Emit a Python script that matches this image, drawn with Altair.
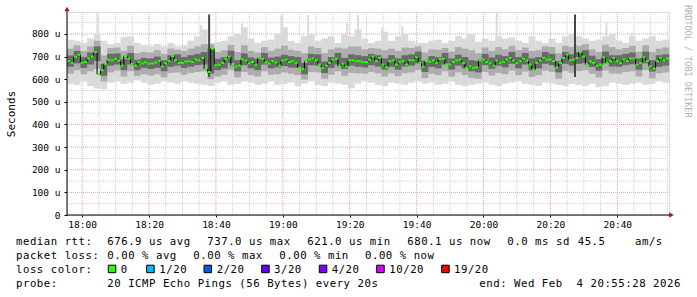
import altair as alt
import pandas as pd

# ---------------------------------------------------------------- data
START_H, START_M, START_S = 17, 55, 28   # left edge of the graph (clock)
SPAN = 180                               # minutes shown
Y_MAX = 897                              # microseconds at the top edge

# median RTT (us), one value per minute slot
median_us = [
    680, 672, 700, 708, 672, 676, 692, 700, 720, 622,
    640, 668, 686, 684, 690, 682, 660, 702, 690, 668,
    660, 676, 670, 674, 668, 670, 674, 680, 657, 670,
    680, 702, 684, 672, 672, 678, 680, 676, 687, 684,
    694, 645, 632, 735, 662, 664, 672, 690, 700, 660,
    656, 660, 688, 682, 670, 676, 664, 694, 690, 674,
    670, 680, 674, 660, 682, 686, 676, 680, 672, 650,
    645, 680, 687, 692, 684, 665, 650, 660, 672, 687,
    690, 657, 668, 655, 684, 684, 680, 680, 676, 676,
    686, 700, 680, 694, 665, 653, 680, 684, 665, 677,
    680, 665, 684, 684, 697, 672, 655, 680, 677, 683,
    672, 690, 690, 666, 666, 676, 683, 687, 672, 650,
    657, 650, 653, 684, 686, 676, 670, 660, 683, 672,
    677, 687, 694, 683, 672, 680, 690, 683, 665, 642,
    672, 683, 694, 687, 687, 680, 652, 672, 694, 709,
    684, 687, 694, 720, 700, 665, 678, 672, 660, 665,
    697, 672, 680, 694, 680, 672, 687, 680, 692, 692,
    665, 672, 697, 680, 657, 647, 680, 694, 684, 692,
]

# smoke bands (us), one value per 2-minute slot
outer_hi = [
    775, 770, 760, 780, 800, 770, 755, 760, 785, 790,
    760, 750, 745, 755, 745, 760, 745, 750, 770, 790,
    820, 760, 765, 770, 790, 800, 830, 780, 760, 770,
    775, 800, 830, 770, 760, 790, 800, 770, 780, 790,
    760, 800, 790, 820, 780, 760, 770, 810, 770, 790,
    800, 770, 760, 760, 770, 775, 760, 770, 790, 780,
    800, 765, 780, 770, 790, 780, 785, 770, 760, 790,
    770, 760, 780, 760, 790, 800, 790, 780, 770, 775,
    790, 800, 770, 760, 790, 770, 780, 790, 770, 775,
]
outer_lo = [
    580, 575, 590, 570, 560, 555, 585, 590, 580, 585,
    595, 585, 575, 580, 590, 585, 580, 590, 585, 580,
    575, 570, 585, 590, 575, 580, 590, 585, 575, 580,
    590, 575, 580, 585, 570, 580, 590, 575, 570, 585,
    580, 575, 560, 580, 590, 585, 575, 570, 585, 580,
    575, 585, 590, 580, 585, 575, 580, 590, 575, 570,
    575, 580, 585, 575, 570, 580, 585, 590, 580, 575,
    570, 585, 580, 575, 570, 580, 575, 570, 580, 565,
    570, 585, 580, 575, 580, 585, 575, 580, 590, 585,
]
mid_hi = [
    735, 750, 725, 745, 770, 705, 738, 740, 725, 748,
    715, 720, 718, 728, 712, 735, 730, 725, 735, 745,
    755, 755, 720, 728, 752, 720, 750, 725, 718, 742,
    725, 735, 748, 730, 725, 715, 745, 738, 715, 732,
    740, 735, 745, 745, 732, 738, 735, 728, 735, 725,
    740, 738, 745, 718, 732, 730, 738, 722, 742, 735,
    728, 715, 740, 725, 742, 732, 748, 728, 740, 725,
    728, 745, 742, 715, 748, 742, 748, 755, 732, 720,
    752, 742, 732, 738, 748, 722, 750, 720, 735, 740,
]
mid_lo = [
    625, 640, 622, 635, 645, 590, 630, 638, 612, 635,
    615, 622, 616, 622, 608, 628, 630, 620, 628, 632,
    635, 600, 612, 620, 640, 608, 632, 618, 612, 635,
    620, 622, 630, 624, 618, 598, 632, 630, 602, 620,
    635, 615, 628, 626, 624, 632, 626, 612, 626, 614,
    626, 630, 640, 605, 624, 618, 635, 612, 630, 618,
    606, 602, 632, 616, 628, 622, 638, 618, 634, 610,
    618, 638, 632, 602, 636, 628, 636, 640, 624, 608,
    638, 626, 624, 632, 635, 612, 640, 604, 626, 630,
]
core_hi = [
    705, 725, 698, 718, 745, 668, 712, 714, 688, 716,
    686, 694, 692, 700, 684, 706, 710, 698, 706, 712,
    720, 735, 690, 698, 726, 684, 714, 696, 690, 716,
    696, 700, 708, 702, 698, 672, 712, 710, 678, 698,
    716, 694, 710, 706, 702, 712, 706, 692, 706, 692,
    706, 710, 722, 682, 702, 698, 716, 692, 708, 698,
    684, 680, 712, 696, 708, 702, 720, 698, 716, 692,
    698, 720, 712, 680, 720, 710, 720, 728, 704, 688,
    722, 706, 706, 712, 718, 692, 722, 684, 706, 710,
]
core_lo = [
    655, 670, 650, 665, 680, 615, 660, 665, 640, 665,
    640, 650, 645, 650, 635, 655, 660, 650, 655, 662,
    665, 625, 640, 648, 672, 635, 662, 648, 640, 665,
    648, 652, 658, 652, 650, 622, 662, 660, 628, 650,
    665, 645, 660, 655, 652, 662, 656, 642, 655, 642,
    656, 660, 670, 632, 654, 648, 665, 642, 660, 648,
    635, 630, 662, 646, 660, 652, 668, 648, 665, 640,
    648, 668, 662, 630, 668, 660, 668, 672, 654, 638,
    670, 656, 655, 662, 666, 642, 670, 634, 655, 660,
]

# narrow outliers (minute, low us, high us, shade)
spike_t = [8.8, 17.5, 39.8, 42.2, 52.0, 63.8, 71.8, 83.5, 86.7, 94.0,
           100.0, 119.6, 128.2, 151.6, 161.0, 168.6, 174.5]
spike_lo = [700, 700, 700, 610, 700, 700, 700, 700, 700, 700,
            700, 700, 700, 610, 700, 700, 700]
spike_hi = [891, 785, 840, 886, 848, 885, 885, 848, 885, 830,
            835, 800, 893, 886, 850, 804, 790]
spike_shade = ["light", "light", "light", "dark", "light", "light", "light",
               "light", "light", "light", "light", "light", "light", "dark",
               "light", "light", "light"]

x_labels = ["18:00", "18:20", "18:40", "19:00", "19:20", "19:40",
            "20:00", "20:20", "20:40"]
y_ticks = [0, 100, 200, 300, 400, 500, 600, 700, 800]

loss_labels = ["0", "1/20", "2/20", "3/20", "4/20", "10/20", "19/20"]
loss_colors = ["#26ff00", "#00b8ff", "#0059ff", "#5e00ff", "#7e00ff",
               "#dd00ff", "#ff0000"]

stats_row0 = ["median rtt:", "676.9 us avg", "737.0 us max", "621.0 us min",
              "680.1 us now", "0.0 ms sd", "45.5", "am/s"]
stats_row1 = ["packet loss:", "0.00 % avg", "0.00 % max", "0.00 % min",
              "0.00 % now"]
stats_row2 = ["loss color:"]
stats_row3 = ["probe:", "20 ICMP Echo Pings (56 Bytes) every 20s",
              "end: Wed Feb  4 20:55:28 2026"]
watermark = "RRDTOOL / TOBI OETIKER"

# ---------------------------------------------------------------- layout
MONO = "DejaVu Sans Mono"
W, H = 602, 203
LEFT, TOP = 67, 12
BOTTOM_Y = TOP + H


def mx(px):   # absolute pixel x -> minutes
    return (px - LEFT) * SPAN / W


def uy(py):   # absolute pixel y -> microseconds
    return (BOTTOM_Y - py) * Y_MAX / H


start_min = START_H * 60 + START_M + START_S / 60.0
tick_min = [int(s[:2]) * 60 + int(s[3:]) - start_min for s in x_labels]

minor_min = []
clock = 18 * 60
while clock - start_min <= SPAN:
    m = clock - start_min
    if m > 0 and (clock % 20) != 0:
        minor_min.append(m)
    clock += 5

XS = alt.Scale(domain=[0, SPAN], nice=False, zero=False)
YS = alt.Scale(domain=[0, Y_MAX], nice=False, zero=True)
XAX = alt.Axis(values=tick_min, title=None, grid=False, domain=False,
               labelExpr=("timeFormat(time(datetime(2026, 1, 4, %d, %d, %d))"
                          " + round(datum.value * 60) * 1000, '%%H:%%M')"
                          % (START_H, START_M, START_S)),
               tickSize=2, tickColor="#000000", labelFont=MONO,
               labelFontSize=9.5, labelColor="#000000", labelPadding=2,
               labelFlush=False, labelOverlap=False)
YAX = alt.Axis(values=y_ticks, title="Seconds", grid=False, domain=False,
               labelExpr="datum.value == 0 ? '0\u00a0\u00a0' : datum.value + ' u'",
               tickSize=3, tickColor="#000000", labelFont=MONO,
               labelFontSize=9.5, labelColor="#000000", labelPadding=4,
               titleFont=MONO, titleFontSize=11, titleFontWeight="normal",
               titleColor="#000000", titleX=-56, titleY=H / 2,
               titleAngle=270, titleAlign="center", titleBaseline="middle")


def X(f):
    return alt.X(f"{f}:Q", scale=XS, axis=XAX)


def Y(f):
    return alt.Y(f"{f}:Q", scale=YS, axis=YAX)


# ---------------------------------------------------------------- frames
med = pd.DataFrame({"x": list(range(len(median_us))), "y": median_us})
med["x2"] = med["x"] + 1

slots = list(range(0, 2 * len(outer_hi), 2))
smoke = pd.DataFrame({"x": slots, "olo": outer_lo, "ohi": outer_hi,
                      "mlo": mid_lo, "mhi": mid_hi,
                      "clo": core_lo, "chi": core_hi})
smoke["x2"] = smoke["x"] + 2.04

spk = pd.DataFrame({"x": spike_t, "y": spike_lo, "y2": spike_hi,
                    "shade": spike_shade})
spk["x2"] = spk["x"] + 0.6

vgrid_maj = pd.DataFrame({"x": tick_min})
vgrid_min = pd.DataFrame({"x": minor_min})
hgrid_maj = pd.DataFrame({"y": [v for v in y_ticks if v > 0]})
hgrid_min = pd.DataFrame({"y": [v + 50 for v in y_ticks]})

axis_lines = pd.DataFrame([
    {"x": 0, "x2": 0, "y": uy(BOTTOM_Y), "y2": uy(11)},
    {"x": mx(LEFT), "x2": mx(670), "y": 0, "y2": 0},
])
arrows = pd.DataFrame([
    {"x": 0, "y": uy(9), "s": "triangle-up"},
    {"x": mx(671.5), "y": 0, "s": "triangle-right"},
])

# legend / statistics text, placed character by character on a 6.95 px grid
ROW_Y = [244.5, 258.8, 273.0, 287.3]
row_items = [
    (stats_row0, [16, 107.3, 207.3, 307.3, 407.3, 507.3, 577.7, 635]),
    (stats_row1, [16, 107.3, 193.3, 279.3, 365]),
    (stats_row2 + loss_labels, [16, 120.7, 159.3, 216.7, 274, 331.7, 389.3, 454]),
    (stats_row3, [16, 107.3, 479.3]),
]
ADV = 6.95
chars = []
for r, (texts, xs) in enumerate(row_items):
    for txt, x0 in zip(texts, xs):
        for i, ch in enumerate(txt):
            if ch != " ":
                chars.append({"x": mx(x0 + i * ADV), "y": uy(ROW_Y[r]), "c": ch})
chars = pd.DataFrame(chars)

sw_x = [108.3, 146.7, 204, 261.7, 319.3, 376.7, 441.7]
swatch = pd.DataFrame({"x": [mx(v) for v in sw_x],
                       "x2": [mx(v + 7.5) for v in sw_x],
                       "y": uy(265.2), "y2": uy(272.7), "col": loss_colors})

wm = pd.DataFrame([{"x": mx(688.3), "y": uy(5), "t": watermark}])

# ---------------------------------------------------------------- layers
grid_minor_v = alt.Chart(vgrid_min).mark_rule(
    color="#cfcfcf", strokeWidth=1, strokeDash=[1, 1]).encode(
    x=X("x"), y=alt.value(0), y2=alt.value(H))
grid_minor_h = alt.Chart(hgrid_min).mark_rule(
    color="#cfcfcf", strokeWidth=1, strokeDash=[1, 1]).encode(
    y=Y("y"), x=alt.value(0), x2=alt.value(W))
grid_major_v = alt.Chart(vgrid_maj).mark_rule(
    color="#e6a3a3", strokeWidth=1, strokeDash=[1, 1]).encode(
    x=X("x"), y=alt.value(0), y2=alt.value(H))
grid_major_h = alt.Chart(hgrid_maj).mark_rule(
    color="#e6a3a3", strokeWidth=1, strokeDash=[1, 1]).encode(
    y=Y("y"), x=alt.value(0), x2=alt.value(W))

outer = alt.Chart(smoke).mark_rect(color="#dadada").encode(
    x=X("x"), x2="x2", y=Y("olo"), y2="ohi")
light_spikes = alt.Chart(spk).transform_filter(
    "datum.shade == 'light'").mark_rect(color="#dadada").encode(
    x=X("x"), x2="x2", y=Y("y"), y2="y2")
mid = alt.Chart(smoke).mark_rect(color="#adadad").encode(
    x=X("x"), x2="x2", y=Y("mlo"), y2="mhi")
core = alt.Chart(smoke).mark_rect(color="#6a6a6a").encode(
    x=X("x"), x2="x2", y=Y("clo"), y2="chi")
dark_spikes = alt.Chart(spk).transform_filter(
    "datum.shade == 'dark'").mark_rect(color="#444444").encode(
    x=X("x"), x2="x2", y=Y("y"), y2="y2")

med_black = alt.Chart(med).mark_line(
    color="#000000", strokeWidth=1, interpolate="step-after").encode(
    x=X("x"), y=Y("y"))
med_green = alt.Chart(med).mark_rule(color="#26ff00", strokeWidth=2).encode(
    x=X("x"), x2="x2", y=Y("y"))

axes = alt.Chart(axis_lines).mark_rule(color="#000000", strokeWidth=1).encode(
    x=X("x"), x2="x2", y=Y("y"), y2="y2")
arrow_pts = alt.Chart(arrows).mark_point(
    filled=True, size=28, color="#a01c1c", opacity=1).encode(
    x=X("x"), y=Y("y"),
    shape=alt.Shape("s:N", scale=None, legend=None))

txt = alt.Chart(chars).mark_text(
    font=MONO, fontSize=10.7, align="left", baseline="alphabetic",
    color="#000000").encode(x=X("x"), y=Y("y"), text="c:N")
sw = alt.Chart(swatch).mark_rect(stroke="#000000", strokeWidth=1).encode(
    x=X("x"), x2="x2", y=Y("y"), y2="y2",
    fill=alt.Fill("col:N", scale=None, legend=None))
wm_txt = alt.Chart(wm).mark_text(
    font=MONO, fontSize=8.5, angle=90, align="left", baseline="middle",
    color="#b0b0b0").encode(x=X("x"), y=Y("y"), text="t:N")

chart = alt.layer(
    grid_minor_v, grid_minor_h, grid_major_v, grid_major_h,
    outer, light_spikes, mid, core, dark_spikes,
    med_black, med_green, axes, arrow_pts, txt, sw, wm_txt,
).properties(
    width=W, height=H,
    autosize=alt.AutoSizeParams(type="none"),
    padding={"left": LEFT, "top": TOP, "right": 697 - LEFT - W,
             "bottom": 297 - TOP - H},
).configure_view(stroke=None).configure(background="#ffffff")

chart.save("out.html", embed_options={"renderer": "svg", "actions": False})
